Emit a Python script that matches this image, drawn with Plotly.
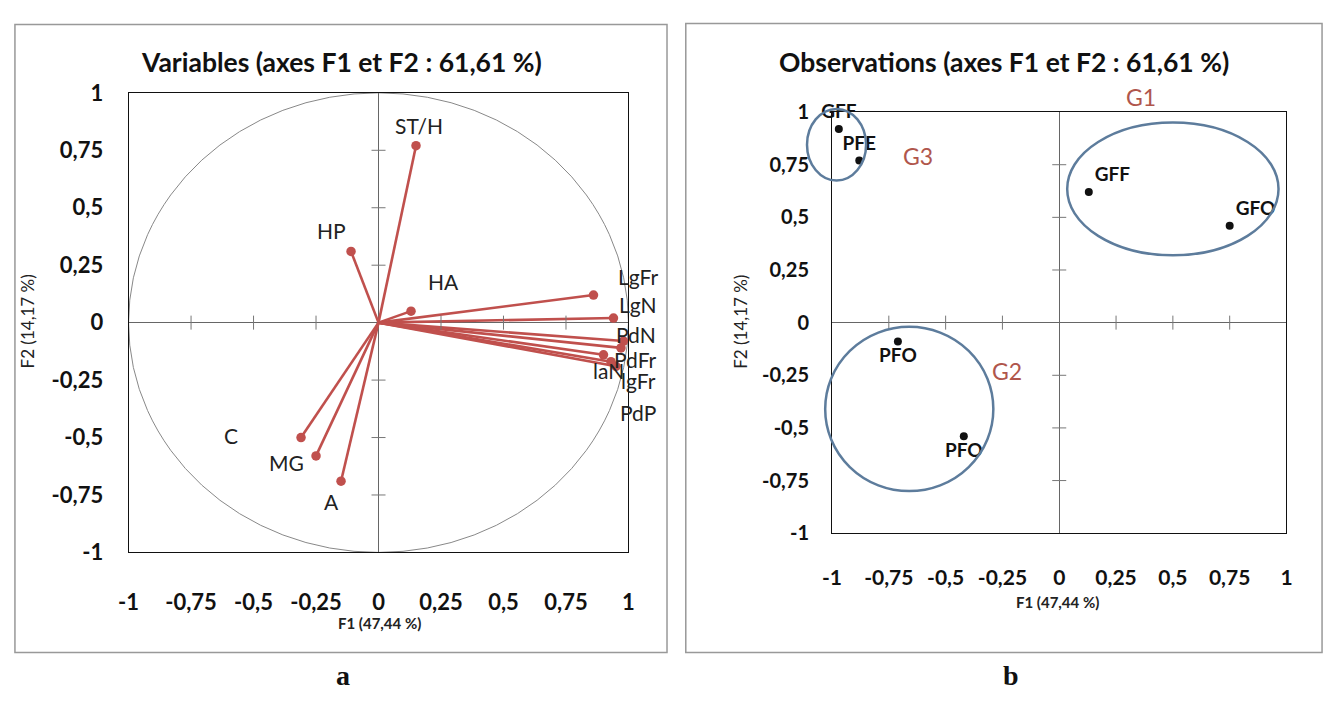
import plotly.graph_objects as go

W, H = 1332, 701

# ---------------- data ----------------
var_names = ["ST/H", "HP", "HA", "LgFr", "LgN", "PdN", "PdFr", "laN", "lgFr", "PdP", "C", "MG", "A"]
var_f1 = [0.15, -0.11, 0.13, 0.86, 0.94, 0.98, 0.90, 0.93, 0.95, 0.97, -0.31, -0.25, -0.15]
var_f2 = [0.77, 0.31, 0.05, 0.12, 0.02, -0.08, -0.14, -0.17, -0.19, -0.11, -0.50, -0.58, -0.69]
# label anchor positions (in F1/F2 units)
var_lab_f1 = [0.16, -0.19, 0.26, 1.04, 1.04, 1.03, 1.03, 0.92, 1.04, 1.04, -0.59, -0.37, -0.19]
var_lab_f2 = [0.86, 0.40, 0.18, 0.20, 0.08, -0.05, -0.16, -0.21, -0.25, -0.39, -0.49, -0.61, -0.78]

obs_names = ["GFF", "PFE", "GFF", "GFO", "PFO", "PFO"]
obs_f1 = [-0.97, -0.88, 0.13, 0.75, -0.71, -0.42]
obs_f2 = [0.92, 0.77, 0.62, 0.46, -0.09, -0.54]
obs_textpos = ["top center", "top center", "top right", "top right", "bottom center", "bottom center"]

groups = ["G1", "G2", "G3"]
group_cx = [0.50, -0.66, -0.98]
group_cy = [0.635, -0.41, 0.845]
group_rx = [0.465, 0.37, 0.13]
group_ry = [0.315, 0.39, 0.17]
group_lab_f1 = [0.36, -0.23, -0.62]
group_lab_f2 = [1.07, -0.23, 0.79]

tick_vals = [-1, -0.75, -0.5, -0.25, 0, 0.25, 0.5, 0.75, 1]
tick_text = ["-1", "-0,75", "-0,5", "-0,25", "0", "0,25", "0,5", "0,75", "1"]

title_a = "Variables (axes F1 et F2 : 61,61 %)"
title_b = "Observations (axes F1 et F2 : 61,61 %)"
xlab = "F1 (47,44 %)"
ylab = "F2 (14,17 %)"

# ---------------- style / layout ----------------
FONT = "Lato"
RED = "#c0504d"
BLUE = "#5d7c9c"
GLAB = "#b0564c"

XD1 = [120 / W, 626 / W]
YD1 = [1 - 560 / H, 1 - 82 / H]
XD2 = [832 / W, 1292 / W]
YD2 = [1 - 540 / H, 1 - 102 / H]
RNG = [-1, 1]


def to_paper(v, dom):
    return dom[0] + (v - RNG[0]) / (RNG[1] - RNG[0]) * (dom[1] - dom[0])


fig = go.Figure()

# left panel: vectors
lx, ly = [], []
for a, b in zip(var_f1, var_f2):
    lx += [0, a, None]
    ly += [0, b, None]
fig.add_trace(go.Scatter(x=lx, y=ly, mode="lines", line=dict(color=RED, width=2.6),
                         xaxis="x", yaxis="y", hoverinfo="skip", showlegend=False))
fig.add_trace(go.Scatter(x=var_f1, y=var_f2, mode="markers", marker=dict(color=RED, size=9.5),
                         xaxis="x", yaxis="y", text=var_names, showlegend=False, cliponaxis=False))

# tick marks on zero lines (both panels)
inner = [t for t in tick_vals if t not in (-1, 0, 1)]
for xa, ya in (("x", "y"), ("x2", "y2")):
    fig.add_trace(go.Scatter(x=inner, y=[0] * len(inner), mode="markers",
                             marker=dict(symbol="line-ns", size=10, line=dict(color="#777", width=1)),
                             xaxis=xa, yaxis=ya, hoverinfo="skip", showlegend=False))
    fig.add_trace(go.Scatter(x=[0] * len(inner), y=inner, mode="markers",
                             marker=dict(symbol="line-ew", size=10, line=dict(color="#777", width=1)),
                             xaxis=xa, yaxis=ya, hoverinfo="skip", showlegend=False))

# right panel: observations
fig.add_trace(go.Scatter(x=obs_f1, y=obs_f2, mode="markers+text", text=obs_names,
                         textposition=obs_textpos,
                         textfont=dict(family=FONT, size=19, color="#111", weight="bold"),
                         marker=dict(color="#111", size=8),
                         xaxis="x2", yaxis="y2", showlegend=False, cliponaxis=False))

shapes = []
# unit circle
shapes.append(dict(type="circle", xref="x", yref="y", x0=-1, x1=1, y0=-1, y1=1,
                   line=dict(color="#888", width=1), layer="below"))
# ellipses (mapped to paper so they are not clipped at the plot edge)
for cx, cy, rx, ry in zip(group_cx, group_cy, group_rx, group_ry):
    shapes.append(dict(type="circle", xref="paper", yref="paper",
                       x0=to_paper(cx - rx, XD2), x1=to_paper(cx + rx, XD2),
                       y0=to_paper(cy - ry, YD2), y1=to_paper(cy + ry, YD2),
                       line=dict(color=BLUE, width=2.5)))
# outer frames
shapes.append(dict(type="rect", xref="paper", yref="paper", x0=5 / W, x1=665 / W,
                   y0=1 - 664 / H, y1=1 - 11 / H, line=dict(color="#999", width=1.5)))
shapes.append(dict(type="rect", xref="paper", yref="paper", x0=684 / W, x1=1328 / W,
                   y0=1 - 664 / H, y1=1 - 10 / H, line=dict(color="#999", width=1.5)))

ax_common = dict(range=RNG, tickvals=tick_vals, ticktext=tick_text, showgrid=False,
                 zeroline=True, zerolinecolor="#666", zerolinewidth=1,
                 showline=True, mirror=True, linecolor="#111", linewidth=1, ticks="")


def tf(size):
    return dict(family=FONT, size=size, color="#111", weight="bold")


annotations = []
# variable labels
for name, a, b in zip(var_names, var_lab_f1, var_lab_f2):
    annotations.append(dict(text=name, x=to_paper(a, XD1), y=to_paper(b, YD1),
                            xref="paper", yref="paper", showarrow=False,
                            xanchor="center", yanchor="middle",
                            font=dict(family=FONT, size=21, color="#222")))
# group labels
for name, a, b in zip(groups, group_lab_f1, group_lab_f2):
    annotations.append(dict(text=name, x=to_paper(a, XD2), y=to_paper(b, YD2),
                            xref="paper", yref="paper", showarrow=False,
                            xanchor="center", yanchor="middle",
                            font=dict(family=FONT, size=23, color=GLAB)))


def pann(text, x, y, size, weight="normal", family=FONT, angle=0, color="#111"):
    return dict(text=text, x=x / W, y=1 - y / H, xref="paper", yref="paper", showarrow=False,
                xanchor="center", yanchor="middle", textangle=angle,
                font=dict(family=family, size=size, color=color, weight=weight))


annotations += [
    pann(title_a, 336, 50, 26.5, "bold"),
    pann(title_b, 1006, 50, 26.5, "bold"),
    pann(xlab, 374, 633, 15, "bold", color="#222"),
    pann(xlab, 1060, 612, 15, "bold", color="#222"),
    pann(ylab, 18, 320, 17, angle=-90, color="#222"),
    pann(ylab, 740, 320, 17, angle=-90, color="#222"),
    pann("a", 337, 688, 28, "bold", family="Liberation Serif"),
    pann("b", 1013, 688, 28, "bold", family="Liberation Serif"),
]

fig.update_layout(
    width=W, height=H, margin=dict(l=0, r=0, t=0, b=0),
    paper_bgcolor="white", plot_bgcolor="white",
    xaxis=dict(domain=XD1, anchor="y", ticklabelstandoff=30, tickfont=tf(22), **ax_common),
    yaxis=dict(domain=YD1, anchor="x", ticklabelstandoff=20, tickfont=tf(22), **ax_common),
    xaxis2=dict(domain=XD2, anchor="y2", ticklabelstandoff=26, tickfont=tf(21), **ax_common),
    yaxis2=dict(domain=YD2, anchor="x2", ticklabelstandoff=18, tickfont=tf(20), **ax_common),
    shapes=shapes,
    annotations=annotations,
)
fig.write_html("out.html",
               post_script="document.body.style.margin='0';document.body.style.overflow='hidden';")
